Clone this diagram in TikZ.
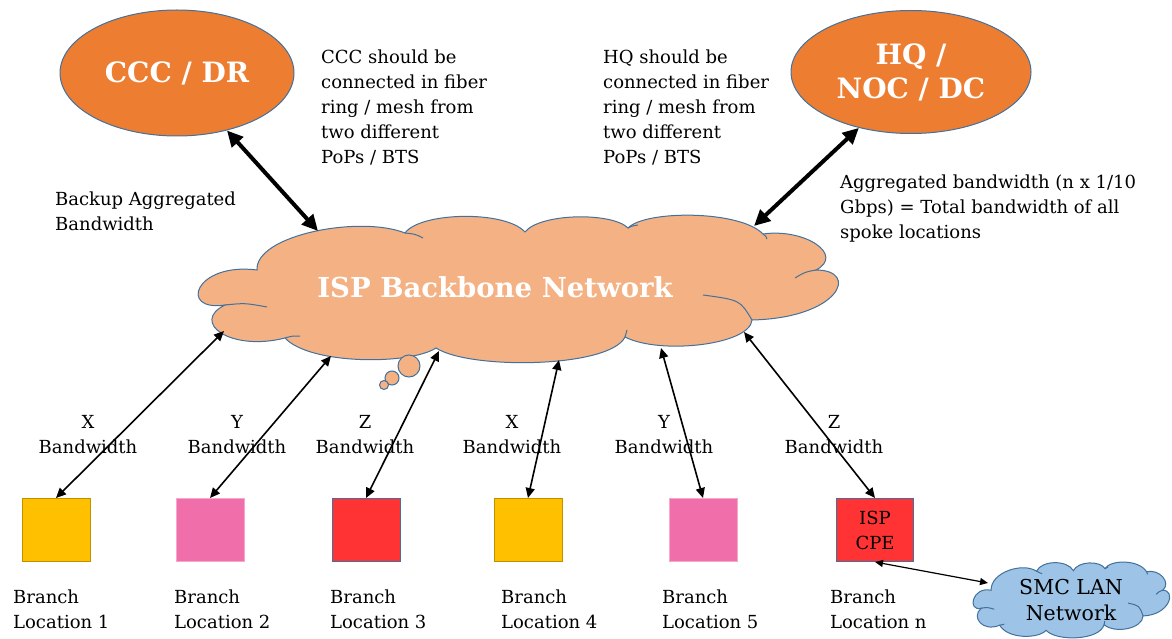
\documentclass[tikz,border=0pt]{standalone}
\usepackage{fontspec}
\setmainfont{DejaVu Serif}
\usepackage{tikz}
\usetikzlibrary{
    shapes.geometric,
    arrows.meta
}
\definecolor{hubOrange}{HTML}{ED7D31}
\definecolor{cloudOrange}{HTML}{F4B183}
\definecolor{lanBlue}{HTML}{9DC3E6}
\definecolor{edgeBlue}{HTML}{41719C}
\definecolor{boxYellow}{HTML}{FFC000}
\definecolor{edgeYellow}{HTML}{BF9000}
\definecolor{boxPink}{HTML}{F06EAA}
\definecolor{edgePink}{HTML}{F5A8CC}
\definecolor{boxRed}{HTML}{FF3333}
\newcommand{\bodyfont}{\fontsize{18}{25}\selectfont}
\newcommand{\hubfont}{\fontsize{28}{34}\selectfont\bfseries}
\newcommand{\ispfont}{\fontsize{27.5}{30}\selectfont\bfseries}
\tikzset{
    hub/.style={ellipse, draw=edgeBlue, line width=1pt, fill=hubOrange, text=white, font=\hubfont, align=center, inner sep=0pt},
    branch/.style={draw, line width=1pt, minimum width=68pt, minimum height=63pt, inner sep=0pt},
    note/.style={anchor=north west, align=left, inner sep=0pt, font=\bodyfont},
    bwlabel/.style={anchor=north, align=center, inner sep=0pt, font=\bodyfont},
    cloudline/.style={draw=edgeBlue, line width=1pt},
    link/.style={{Triangle[length=10pt,width=9pt]}-{Triangle[length=10pt,width=9pt]}, line width=1.6pt},
    uplink/.style={{Triangle[length=16pt,width=15pt]}-{Triangle[length=16pt,width=15pt]}, line width=4pt},
    lanlink/.style={{Triangle[length=8pt,width=7pt]}-{Triangle[length=8pt,width=7pt]}, line width=1.2pt},
    bubble/.style={draw=edgeBlue, line width=1pt, fill=cloudOrange}
}
\begin{document}
\begin{tikzpicture}[x=1pt, y=-1pt]
    \useasboundingbox (0,0) rectangle (1172,639);
    % hubs
    \node[hub, minimum width=234pt, minimum height=126pt] (ccc) at (177,73) {CCC / DR};
    \node[hub, minimum width=240pt, minimum height=123pt] (hq) at (911,72) {HQ /\\NOC / DC};
    % clouds: backbone and LAN (same outline, scaled)
    \foreach \sx/\sy/\tx/\ty/\c in {1/1/198/217/cloudOrange, 0.307/0.514/973/563/lanBlue} {
        \begin{scope}[shift={(\tx,\ty)}, xscale=\sx, yscale=\sy, shift={(-198,-217)}]
            \draw[cloudline, fill=\c]
            (225,305) .. controls (178,312) and (195,262) .. (257,270)
            .. controls (255,235) and (360,215) .. (405,233)
            .. controls (420,212) and (505,210) .. (525,232)
            .. controls (540,213) and (612,212) .. (628,228)
            .. controls (645,210) and (740,210) .. (763,234)
            .. controls (805,228) and (845,255) .. (816,270)
            .. controls (860,270) and (840,318) .. (752,320)
            .. controls (750,345) and (660,355) .. (625,337)
            .. controls (610,368) and (470,370) .. (436,348)
            .. controls (410,365) and (310,365) .. (285,338)
            .. controls (230,352) and (190,322) .. (225,305) -- cycle;
            \draw[cloudline]
            (225,305) .. controls (245,303) .. (267,307)
            (405,233) .. controls (415,234) .. (423,238)
            (628,228) .. controls (632,226) .. (638,225)
            (763,234) .. controls (766,236) .. (767,239)
            (795,278) .. controls (805,272) .. (816,270)
            (703,295) .. controls (740,300) .. (752,320)
            (625,337) .. controls (626,333) .. (627,330)
            (285,338) .. controls (292,336) .. (300,336);
        \end{scope}
    }
    \node[text=white, font=\ispfont] (isp) at (495,287) {ISP Backbone Network};
    \foreach \r/\x/\y in {11/409/366, 7/392/378, 4.5/384/385} {
        \draw[bubble] (\x,\y) circle[radius=\r pt];
    }
    \node[align=center, font=\fontsize{20.5}{26}\selectfont] (smc) at (1071,600) {SMC LAN\\Network};
    % notes
    \node[note] (cccnote) at (321,50) {CCC should be\\connected in fiber\\ring / mesh from\\two different\\PoPs / BTS};
    \node[note] (hqnote) at (603,50) {HQ should be\\connected in fiber\\ring / mesh from\\two different\\PoPs / BTS};
    \node[note] (backup) at (55,192) {Backup Aggregated\\Bandwidth};
    \node[note] (aggr) at (840,175) {Aggregated bandwidth (n x 1/10\\Gbps) = Total bandwidth of all\\spoke locations};
    % branches
    \foreach \n/\x/\c/\e in {1/56/boxYellow/edgeYellow, 2/210/boxPink/edgePink, 3/366/boxRed/edgeBlue,
        4/528/boxYellow/edgeYellow, 5/703/boxPink/edgePink} {
        \node[branch, fill=\c, draw=\e] (b\n) at (\x,530) {};
    }
    \node[branch, fill=boxRed, draw=edgeBlue, minimum width=77pt, align=center, font=\bodyfont] (bn) at (875,530) {ISP\\CPE};
    \foreach \n/\x in {1/13, 2/174, 3/330, 4/501, 5/662, n/830} {
        \node[note] (loc\n) at (\x,590) {Branch\\Location \n};
    }
    \foreach \n/\x/\l in {1/88/X, 2/237/Y, 3/365/Z, 4/512/X, 5/664/Y, n/834/Z} {
        \node[bwlabel] (bw\n) at (\x,415) {\l\\Bandwidth};
    }
    % links
    \coordinate (e1) at (224,331);
    \coordinate (e2) at (331,356);
    \coordinate (e3) at (439,351);
    \coordinate (e4) at (559,360);
    \coordinate (e5) at (661,348);
    \coordinate (en) at (744,332);
    \foreach \n in {1,2,3,4,5,n} {
        \draw[link] (b\n.north) -- (e\n);
    }
    \coordinate (ispccc) at (318,231);
    \coordinate (isphq) at (754,226);
    \draw[uplink] (ccc.-49) -- (ispccc);
    \draw[uplink] (hq.227) -- (isphq);
    \coordinate (smcin) at (988,583);
    \draw[lanlink] (bn.south) -- (smcin);
\end{tikzpicture}
\end{document}
